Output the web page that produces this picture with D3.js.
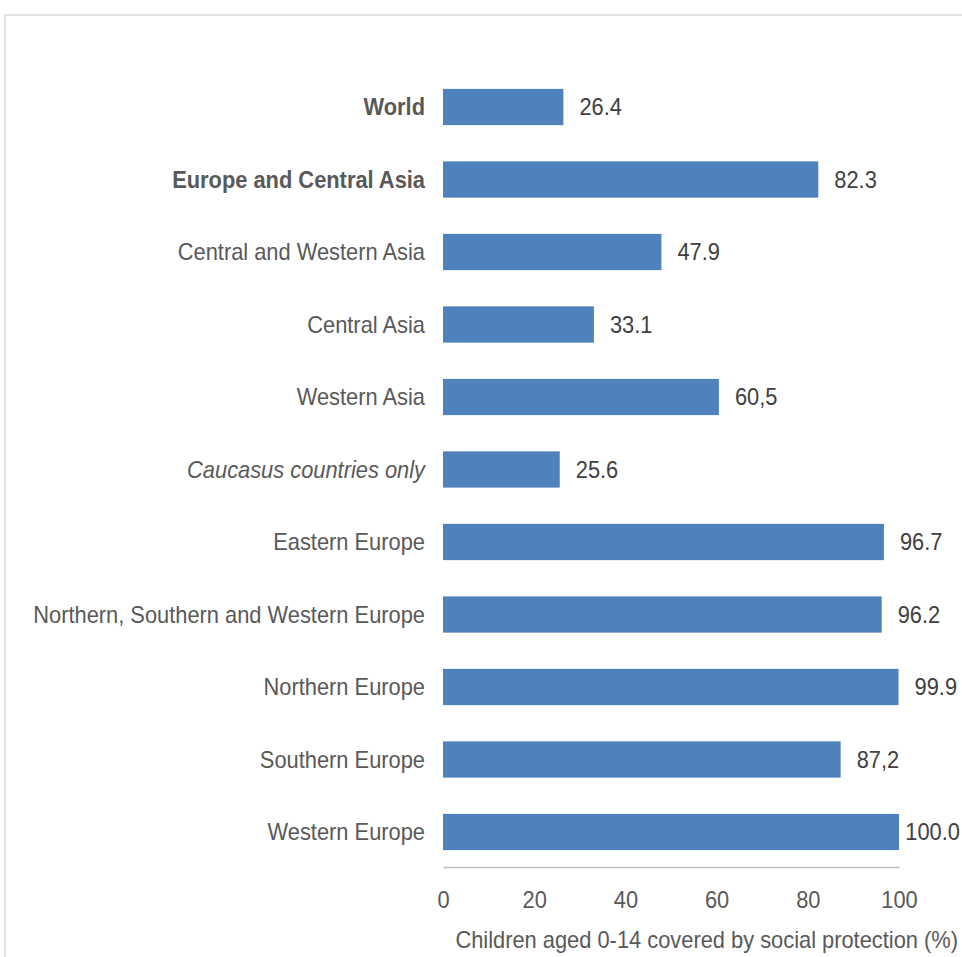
<!DOCTYPE html>
<html>
<head>
<meta charset="utf-8">
<script src="https://cdn.jsdelivr.net/npm/d3@7"></script>
<style>
  html, body { margin: 0; padding: 0; background: #fff; }
  svg { display: block; }
  text { font-family: "Liberation Sans", Arial, sans-serif; }
</style>
</head>
<body>
<svg id="chart" width="962" height="957"></svg>
<script>
const categories = [
  "World",
  "Europe and Central Asia",
  "Central and Western Asia",
  "Central Asia",
  "Western Asia",
  "Caucasus countries only",
  "Eastern Europe",
  "Northern, Southern and Western Europe",
  "Northern Europe",
  "Southern Europe",
  "Western Europe"
];
const values = [26.4, 82.3, 47.9, 33.1, 60.5, 25.6, 96.7, 96.2, 99.9, 87.2, 100.0];
const valueLabels = ["26.4", "82.3", "47.9", "33.1", "60,5", "25.6", "96.7", "96.2", "99.9", "87,2", "100.0"];
const labelStyles = ["bold", "bold", "normal", "normal", "normal", "italic", "normal", "normal", "normal", "normal", "normal"];
const xTicks = [0, 20, 40, 60, 80, 100];
const axisTitle = "Children aged 0-14 covered by social protection (%)";

const W = 962, H = 957;
const CONDENSE = 0.91;
const svg = d3.select("#chart");

function condense(sel) {
  sel.each(function () {
    const len = this.getComputedTextLength();
    d3.select(this).attr("textLength", len * CONDENSE).attr("lengthAdjust", "spacingAndGlyphs");
  });
}

// frame
svg.append("path")
  .attr("d", `M5,${H} L5,15 L${W},15`)
  .attr("fill", "none")
  .attr("stroke", "#d9d9d9")
  .attr("stroke-width", 1.5);

const x = d3.scaleLinear().domain([0, 100]).range([443, 899]);
const y = d3.scaleBand().domain(categories).range([70.75, 868.25]).paddingInner(0.5).paddingOuter(0.25);

// bars
svg.append("g").selectAll("rect")
  .data(categories)
  .join("rect")
  .attr("x", x(0))
  .attr("y", d => y(d))
  .attr("width", (d, i) => x(values[i]) - x(0))
  .attr("height", y.bandwidth())
  .attr("fill", "#4f81bd");

// category labels
svg.append("g").selectAll("text")
  .data(categories)
  .join("text")
  .attr("x", 425)
  .attr("y", d => y(d) + y.bandwidth() / 2)
  .attr("dy", "0.35em")
  .attr("text-anchor", "end")
  .attr("font-size", 24)
  .attr("fill", "#595959")
  .attr("font-weight", (d, i) => labelStyles[i] === "bold" ? "bold" : "normal")
  .attr("font-style", (d, i) => labelStyles[i] === "italic" ? "italic" : "normal")
  .text(d => d)
  .call(condense);

// value labels (kept inside the picture on the right)
svg.append("g").selectAll("text")
  .data(categories)
  .join("text")
  .attr("y", d => y(d) + y.bandwidth() / 2)
  .attr("dy", "0.35em")
  .attr("font-size", 24)
  .attr("fill", "#404040")
  .text((d, i) => valueLabels[i])
  .call(condense)
  .attr("x", function (d, i) {
    const w = this.getComputedTextLength();
    return Math.min(x(values[i]) + 16, W - 2 - w);
  });

// x axis
const axis = d3.axisBottom(x).tickValues(xTicks).tickSize(0).tickPadding(24).tickFormat(d3.format("d"));
const gx = svg.append("g").attr("transform", "translate(0,867)").call(axis);
gx.select(".domain").attr("stroke", "#bfbfbf").attr("stroke-width", 1.5);
gx.selectAll(".tick text")
  .attr("font-size", 24)
  .attr("fill", "#595959")
  .attr("font-family", "'Liberation Sans', Arial, sans-serif")
  .call(condense);

// axis title
svg.append("text")
  .attr("x", 958)
  .attr("y", 940)
  .attr("dy", "0.35em")
  .attr("text-anchor", "end")
  .attr("font-size", 24)
  .attr("fill", "#595959")
  .text(axisTitle)
  .call(condense);
</script>
</body>
</html>
